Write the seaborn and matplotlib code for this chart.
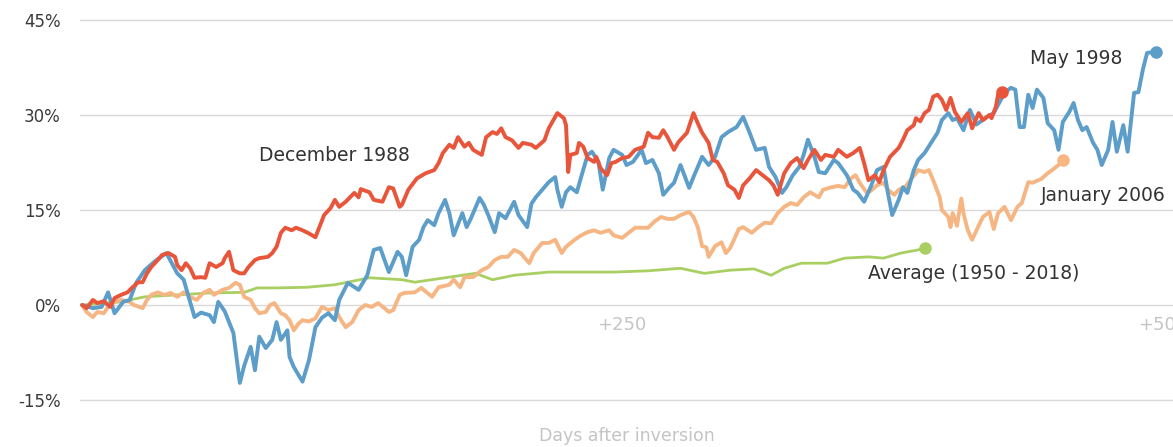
import numpy as np
import pandas as pd
import matplotlib
matplotlib.use("Agg")
import matplotlib.pyplot as plt
import seaborn as sns

# ---------------- data (days after inversion, % return) ----------------
may1998_days = [0,5,9,12,15,19,22,25,29,34,39,44,47,52,55,59,61,63,66,70,73,75,78,80,82,85,88,90,92,95,96,98,102,105,108,111,114,117,119,123,128,132,135,138,140,142,146,148,150,153,156,158,160,163,165,168,170,172,176,178,180,184,186,188,191,193,196,200,202,206,208,210,214,216,219,220,222,224,226,229,231,234,236,239,241,244,246,250,252,255,259,261,264,267,269,272,274,277,281,283,287,290,293,296,299,303,306,309,312,316,318,321,324,326,329,332,334,336,339,341,344,348,350,354,357,359,362,365,368,371,373,375,378,380,382,385,387,390,393,396,398,401,403,405,408,411,414,419,422,427,430,432,434,436,438,440,442,445,447,450,452,454,457,459,461,463,465,468,470,472,475,477,479,482,484,487,489,491,493,497]
may1998_vals = [0,-0.5,-0.3,2.0,-1.3,0.5,0.8,3.5,5.5,7,8.2,5,4,-1.9,-1.2,-1.6,-2.7,0.5,-1,-4.4,-12.3,-9.6,-6.6,-10.3,-5,-6.8,-5.5,-2.7,-5.5,-4,-8.2,-9.8,-12.1,-8.7,-3.5,-2.0,-1.3,-2.4,0.8,3.5,2.4,4.7,8.7,9,7.1,5.2,8.4,7.6,4.7,9.2,10.3,12.3,13.4,12.6,14.5,16.6,14.5,11,14.5,12.3,13.7,16.9,15.8,14.2,11.5,14.5,13.7,16.3,14.2,12.3,16,17,18.6,19.4,20.2,18.2,15.5,17.8,18.6,17.8,20.2,23.7,24.2,22.6,18.2,23.2,24.5,23.7,22.1,22.6,24.5,22.4,22.9,20.8,17.4,18.6,19.3,22.1,18.5,20.2,23.4,22.1,23.4,26.5,27.3,28.1,29.7,27.2,24.5,24.8,21.8,20.2,17.7,18.6,20.5,21.8,23.7,26.1,23.4,21,20.8,22.9,22.4,20.5,18.2,17.7,16.3,18.6,21.3,21.8,17.7,14.2,16.6,18.6,17.7,21.3,22.9,24,25.6,27.2,29.2,30.3,29.2,29.5,27.6,30.8,28.5,29.7,30.3,33.5,34.3,34,28.1,28.1,33.2,31.1,34,32.7,28.7,27.6,24.5,28.9,30.5,31.9,29.2,27.6,28.1,25.6,24.5,22.1,24.5,28.9,24.2,28.4,24.2,33.5,33.6,37.1,39.8,40]

dec1988_days = [0,2,5,7,10,13,15,18,21,23,26,28,30,32,35,37,40,43,44,46,48,50,52,55,57,59,62,65,66,68,70,73,75,77,80,82,86,88,90,92,94,97,99,102,105,108,112,115,117,119,122,126,128,129,133,135,139,142,144,147,148,151,155,159,163,165,167,170,172,174,177,179,181,185,187,190,192,194,196,199,202,204,208,210,214,216,220,223,224,225,226,229,230,232,234,237,238,240,243,245,247,250,253,256,260,262,264,267,269,271,274,276,280,283,285,287,290,292,294,297,299,302,304,306,309,312,315,318,320,322,325,328,331,334,336,339,342,344,348,350,354,357,360,362,364,367,369,371,374,378,380,382,385,386,388,390,392,394,396,398,400,402,404,407,410,412,415,417,420,421,423,424,426]
dec1988_vals = [0,-0.5,0.8,0.3,0.6,-0.3,1.1,1.6,2,2.7,3.6,3.6,5,6,7.1,7.9,8.2,7.6,6.3,5.5,6.6,5.8,4.3,4.4,4.3,6.6,6,6.6,7.4,8.4,5.5,5,5,6,7.1,7.4,7.6,8.2,9.2,11.4,12.2,11.8,12.2,11.8,11.3,10.7,14.2,15.3,16.6,15.5,16.3,17.7,17.0,18.3,17.8,16.6,16.3,18.6,18.4,15.5,15.8,18.2,20,20.8,21.3,22.4,24,25.3,24.8,26.5,25,25.6,24.5,23.7,26.5,27.3,27.0,27.9,26.5,26,24.8,25.6,25.3,24.8,26,27.9,30.3,29.5,28.4,21,23.7,24,25.6,25,23.2,22.6,23.4,21.6,20.5,22.4,22.6,23.2,23.4,24.5,25,27.2,26.5,26.4,27.6,26.5,24.5,25.7,27.2,30.3,28.7,27.2,25.6,22.9,22.6,20.8,18.9,18.2,16.9,18.9,20,21.3,20.5,19.7,18.9,17.4,20.8,22.4,23.2,21.6,22.9,24.5,22.9,23.7,23.4,24.5,23.4,24,24.8,22.4,19.7,20.5,19.4,21.3,23.4,24.8,26.1,27.6,28.4,29.5,29.0,30.3,30.8,32.9,33.2,32.4,30.8,32.7,30.5,28.9,30.3,27.9,30.3,29.2,30,29.5,31.3,33.2,33.6]

jan2006_days = [0,2,5,7,10,12,15,18,22,24,28,30,32,35,38,41,44,47,50,53,56,59,61,65,68,71,73,75,78,80,82,85,87,89,92,94,96,98,100,102,105,108,111,114,117,119,122,125,128,131,134,137,140,142,144,147,149,154,157,162,165,170,172,175,177,181,185,188,191,194,197,200,203,207,209,213,216,219,222,224,228,231,234,237,240,244,246,250,253,256,259,262,265,268,271,274,277,281,283,285,287,289,290,293,296,298,300,304,306,310,313,316,319,322,325,328,331,334,337,341,343,347,350,353,356,358,360,363,365,368,371,373,376,378,381,384,386,387,390,392,394,397,398,401,402,403,405,407,408,410,412,415,417,420,422,424,427,430,433,435,438,440,444,447,449,452,454]
jan2006_vals = [0,-1.1,-1.9,-1.1,-1.3,-0.3,0.5,0.8,0.5,0,-0.5,0.8,1.6,2,1.6,1.9,1.3,2,1.3,0.8,1.9,2.4,1.6,2.4,2.7,3.5,3.2,1.3,0.8,-0.5,-1.3,-1.1,0,0.3,-1.3,-1.6,-2.4,-4,-3.0,-2.4,-2.6,-2.1,-0.3,-0.8,-0.5,-1.9,-3.5,-2.7,-0.8,0,-0.3,0.3,-0.5,-1.1,-0.8,1.6,1.9,2,2.7,1.3,2.8,3.2,4,2.8,4.4,4.4,5.5,6,7.1,7.6,7.6,8.7,8.2,6.6,8.2,9.8,9.8,10.3,8.2,9.2,10.3,11,11.5,11.8,11.4,11.8,11,10.6,11.4,12.2,12.2,12.2,13.2,13.9,13.6,13.6,14.2,14.7,13.9,12.3,9.3,9.1,7.6,9.3,9.9,8.2,9.0,12,12.3,11.4,12.3,13,12.9,14.5,15.5,16.1,15.8,17,17.8,17,18.2,18.6,18.8,18.6,20,20.5,19.3,17.8,18,18.9,19.3,18.2,17.4,18.2,18.6,20,20.8,21.3,21.0,21.3,19.7,17,15,13.9,12.3,14.5,12.5,16.8,14.5,11.8,10.3,12.5,13.9,14.7,12,14.5,15.5,13.4,15.5,16.1,19.4,19.3,19.9,20.8,21.3,22.1,22.9]

avg_days = [0,10,18,29,44,59,75,81,90,104,117,133,148,154,170,182,190,200,216,231,246,262,277,288,300,311,319,325,333,345,353,364,371,379,387,390]
avg_vals = [0,0.3,0.5,1.3,1.6,1.9,2.0,2.7,2.7,2.8,3.2,4.3,4.0,3.6,4.4,5.0,4.0,4.7,5.2,5.2,5.2,5.4,5.8,5.0,5.5,5.7,4.7,5.8,6.6,6.6,7.4,7.6,7.4,8.2,8.7,9.0]

series_names = ["Average (1950 - 2018)", "January 2006", "May 1998", "December 1988"]
y_ticks = [-15, 0, 15, 30, 45]
x_ticks = [250, 500]
x_tick_labels = ["+250", "+500"]

colors = {
    "Average (1950 - 2018)": "#a9cf63",
    "January 2006": "#f6b683",
    "May 1998": "#5c9dc9",
    "December 1988": "#e9553a",
}
widths = {
    "Average (1950 - 2018)": 2.0,
    "January 2006": 2.8,
    "May 1998": 2.8,
    "December 1988": 2.8,
}

frames = []
for name, d, v in [
    ("Average (1950 - 2018)", avg_days, avg_vals),
    ("January 2006", jan2006_days, jan2006_vals),
    ("May 1998", may1998_days, may1998_vals),
    ("December 1988", dec1988_days, dec1988_vals),
]:
    frames.append(pd.DataFrame({"series": name, "day": d, "pct": v}))
df = pd.concat(frames, ignore_index=True)

# ---------------- plot ----------------
sns.set_style("white")
plt.rcParams["font.family"] = ["DejaVu Sans"]

fig = plt.figure(figsize=(11.73, 4.47), dpi=100)
ax = fig.add_axes([80 / 1173, 1 - 412.7 / 447, 1093 / 1173, (412.7 - 7.3) / 447])

for name in series_names:
    sub = df[df["series"] == name]
    sns.lineplot(data=sub, x="day", y="pct", ax=ax, color=colors[name],
                 linewidth=widths[name], legend=False, sort=False)
    last = sub.iloc[-1]
    ax.plot([last["day"]], [last["pct"]], "o", color=colors[name],
            markersize=8, zorder=5)

ax.set_xlim(-1, 505)
ax.set_ylim(-17, 47)
ax.set_yticks(y_ticks)
ax.set_yticklabels([f"{t}%" for t in y_ticks])
ax.set_xticks([])
for s in ax.spines.values():
    s.set_visible(False)
ax.yaxis.grid(True, color="#d9d9d9", linewidth=1.0)
ax.set_axisbelow(True)
ax.tick_params(axis="y", length=0, labelsize=12, labelcolor="#3a3a3a", pad=14)
ax.set_ylabel("")
ax.set_xlabel("Days after inversion", color="#c4c4c4", fontsize=12.5, labelpad=10)

for t, lab in zip(x_ticks, x_tick_labels):
    ax.annotate(lab, xy=(t, 0), xytext=(0, -8), textcoords="offset points",
                ha="center", va="top", color="#c4c4c4", fontsize=13,
                annotation_clip=False)

txt_kw = dict(color="#333333", fontsize=13.5, va="center", ha="left")
ax.annotate("December 1988", xy=(82, 23.6), **txt_kw)
ax.annotate("May 1998", xy=(439, 38.9), **txt_kw)
ax.annotate("January 2006", xy=(444, 17.3), **txt_kw)
ax.annotate("Average (1950 - 2018)", xy=(364, 5.0), **txt_kw)

fig.savefig("out.png", dpi=100)
